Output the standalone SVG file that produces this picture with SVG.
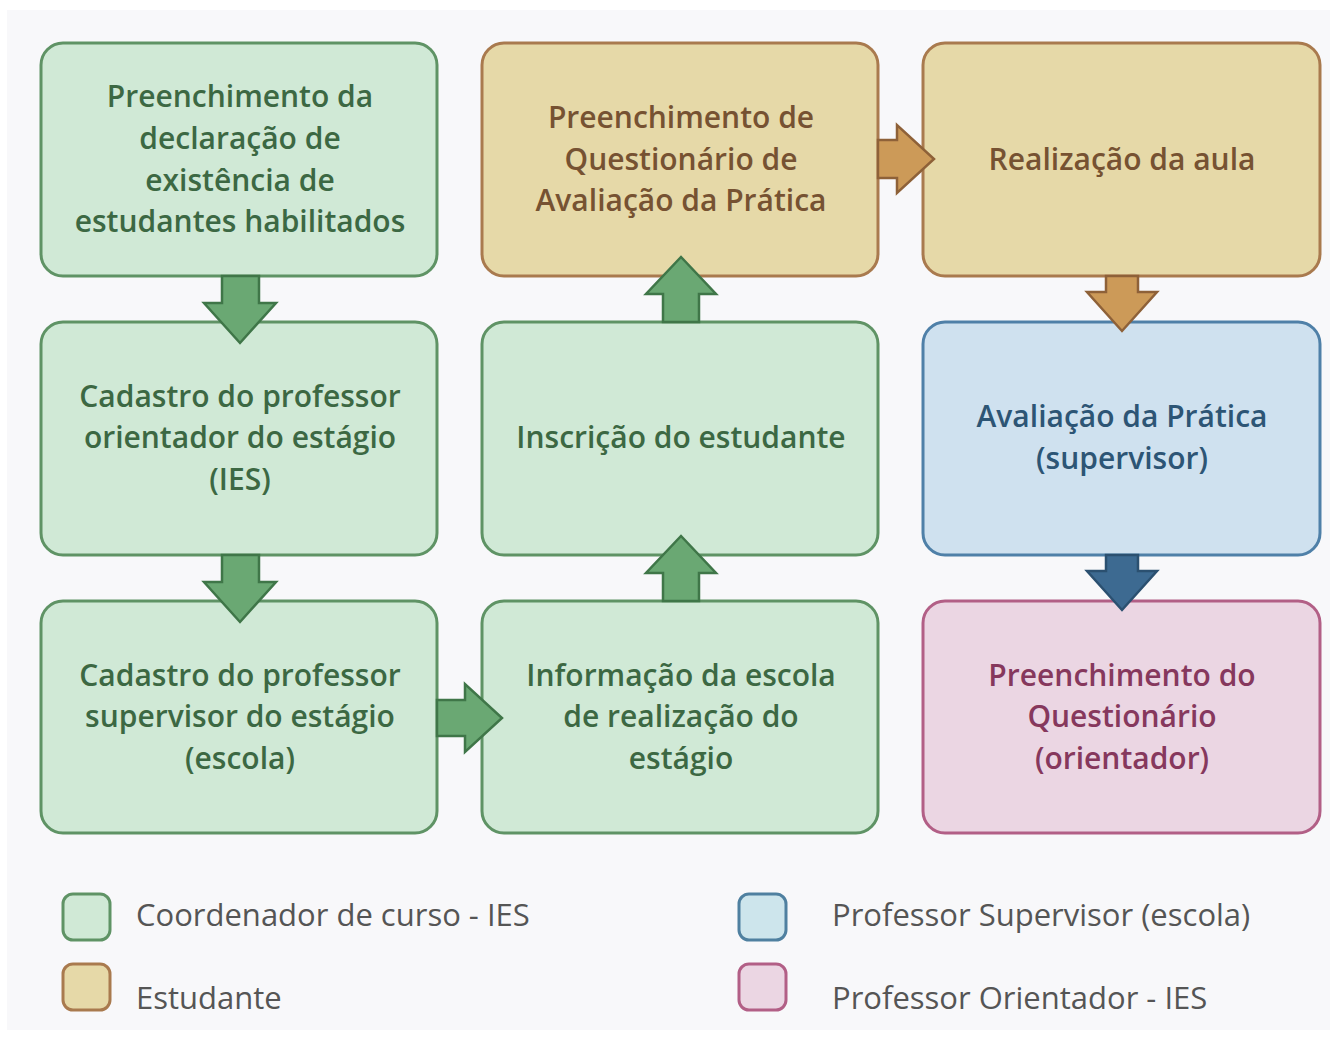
<svg xmlns="http://www.w3.org/2000/svg" width="1337" height="1037" viewBox="0 0 1337 1037">
<style>
.box{stroke-width:3}
.g{fill:#d0e9d6;stroke:#5f9365}
.t{fill:#e6d9a8;stroke:#a97a4e}
.b{fill:#cfe1ef;stroke:#4f80a8}
.p{fill:#ebd6e3;stroke:#b25f86}
.lbl{font-family:"Open Sans","Noto Sans","DejaVu Sans",sans-serif;font-size:30px;font-weight:600;text-anchor:middle}
.gt{fill:#3c6843}.tt{fill:#765232}.bt{fill:#2d5575}.pt{fill:#86385d}
.ag{fill:#6aa873;stroke:#3f7648;stroke-width:2.5;stroke-linejoin:miter}
.at{fill:#cc9a58;stroke:#8e6138;stroke-width:2.5}
.ab{fill:#3d6a91;stroke:#2b5070;stroke-width:2.5}
.leg{font-family:"Open Sans","Noto Sans","DejaVu Sans",sans-serif;font-size:31px;fill:#555555}
</style>
<rect x="0" y="0" width="1337" height="1037" fill="#ffffff"/>
<rect x="7" y="10" width="1323" height="1020" fill="#f8f8fa"/>

<g id="n1"><rect class="box g" x="41" y="43" width="396" height="233" rx="22"/>
<text class="lbl gt"><tspan x="240" y="107">Preenchimento da</tspan><tspan x="240" y="149">declaração de</tspan><tspan x="240" y="191">existência de</tspan><tspan x="240" y="232">estudantes habilitados</tspan></text></g>

<g id="n2"><rect class="box g" x="41" y="322" width="396" height="233" rx="22"/>
<text class="lbl gt"><tspan x="240" y="407">Cadastro do professor</tspan><tspan x="240" y="448">orientador do estágio</tspan><tspan x="240" y="490">(IES)</tspan></text></g>

<g id="n3"><rect class="box g" x="41" y="601" width="396" height="232" rx="22"/>
<text class="lbl gt"><tspan x="240" y="686">Cadastro do professor</tspan><tspan x="240" y="727">supervisor do estágio</tspan><tspan x="240" y="769">(escola)</tspan></text></g>

<g id="n4"><rect class="box g" x="482" y="601" width="396" height="232" rx="22"/>
<text class="lbl gt"><tspan x="681" y="686">Informação da escola</tspan><tspan x="681" y="727">de realização do</tspan><tspan x="681" y="769">estágio</tspan></text></g>

<g id="n5"><rect class="box g" x="482" y="322" width="396" height="233" rx="22"/>
<text class="lbl gt"><tspan x="681" y="448">Inscrição do estudante</tspan></text></g>

<g id="n6"><rect class="box t" x="482" y="43" width="396" height="233" rx="22"/>
<text class="lbl tt"><tspan x="681" y="128">Preenchimento de</tspan><tspan x="681" y="170">Questionário de</tspan><tspan x="681" y="211">Avaliação da Prática</tspan></text></g>

<g id="n7"><rect class="box t" x="923" y="43" width="397" height="233" rx="22"/>
<text class="lbl tt"><tspan x="1122" y="170">Realização da aula</tspan></text></g>

<g id="n8"><rect class="box b" x="923" y="322" width="397" height="233" rx="22"/>
<text class="lbl bt"><tspan x="1122" y="427">Avaliação da Prática</tspan><tspan x="1122" y="469">(supervisor)</tspan></text></g>

<g id="n9"><rect class="box p" x="923" y="601" width="397" height="232" rx="22"/>
<text class="lbl pt"><tspan x="1122" y="686">Preenchimento do</tspan><tspan x="1122" y="727">Questionário</tspan><tspan x="1122" y="769">(orientador)</tspan></text></g>

<g id="connectors">
<polygon class="ag" points="222,276 259,276 259,303 276,303 240,343 204,303 222,303"/>
<polygon class="ag" points="222,555 259,555 259,582 276,582 240,622 204,582 222,582"/>
<polygon class="ag" points="437,700 465,700 465,684 502,718 465,752 465,736 437,736"/>
<polygon class="ag" points="663,601 699,601 699,573 716,573 681,536 646,573 663,573"/>
<polygon class="ag" points="663,322 699,322 699,294 716,294 681,257 646,294 663,294"/>
<polygon class="at" points="878,140 897,140 897,125 934,159 897,193 897,178 878,178"/>
<polygon class="at" points="1106,276 1138,276 1138,292 1157,292 1122,331 1087,292 1106,292"/>
<polygon class="ab" points="1106,555 1138,555 1138,571 1157,571 1122,610 1087,571 1106,571"/>
</g>

<g id="legend">
<rect class="box g" x="63" y="894" width="47" height="46" rx="10"/>
<text class="leg" x="136" y="926">Coordenador de curso - IES</text>
<rect class="box t" x="63" y="964" width="47" height="46" rx="10"/>
<text class="leg" x="136" y="1009">Estudante</text>
<rect class="box" x="739" y="894" width="47" height="46" rx="10" fill="#cde5ec" stroke="#4f80a0"/>
<text class="leg" x="832" y="926">Professor Supervisor (escola)</text>
<rect class="box p" x="739" y="964" width="47" height="46" rx="10"/>
<text class="leg" x="832" y="1009">Professor Orientador - IES</text>
</g>
</svg>
